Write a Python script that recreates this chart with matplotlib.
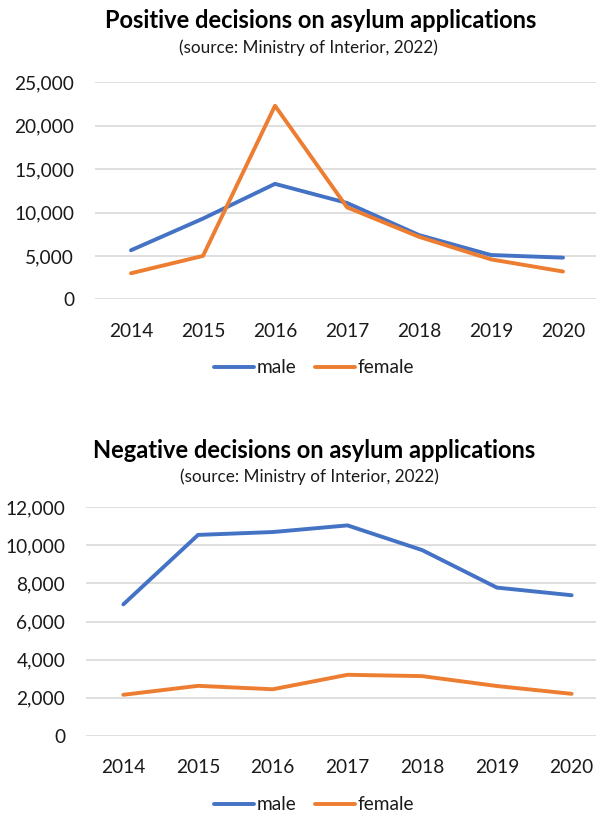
import numpy as np
import matplotlib
matplotlib.use('Agg')
import matplotlib.pyplot as plt
from matplotlib.ticker import FuncFormatter

plt.rcParams['font.family'] = ['Lato', 'DejaVu Sans']

# Data
years = ['2014', '2015', '2016', '2017', '2018', '2019', '2020']
positive_male = [5650, 9300, 13300, 11100, 7400, 5100, 4800]
positive_female = [3000, 5000, 22300, 10600, 7200, 4600, 3200]
negative_male = [6900, 10550, 10700, 11050, 9750, 7780, 7380]
negative_female = [2150, 2620, 2440, 3200, 3130, 2610, 2200]

BLUE = '#4472C4'
ORANGE = '#ED7D31'
GRID = '#D9D9D9'
TEXT = '#1a1a1a'

W, H = 596, 816
fig = plt.figure(figsize=(W / 100, H / 100), dpi=100)


def px_box(left, top, right, bottom):
    # convert a pixel box (top-left origin) to figure fraction
    return [left / W, 1 - bottom / H, (right - left) / W, (bottom - top) / H]


def draw_panel(box, male, female, ymax, step, title, title_xy, sub_xy, legend_y):
    ax = fig.add_axes(px_box(*box))
    x = np.arange(len(years))
    ax.plot(x, male, color=BLUE, linewidth=2.8, label='male', solid_capstyle='round')
    ax.plot(x, female, color=ORANGE, linewidth=2.8, label='female', solid_capstyle='round')
    ax.set_xlim(-0.5, len(years) - 0.5)
    ax.set_ylim(0, ymax)
    ax.set_yticks(np.arange(0, ymax + 1, step))
    ax.yaxis.set_major_formatter(FuncFormatter(lambda v, p: f'{int(v):,}'))
    ax.set_xticks(x)
    ax.set_xticklabels(years)
    ax.grid(axis='y', color=GRID, linewidth=1.2)
    ax.set_axisbelow(True)
    for s in ax.spines.values():
        s.set_visible(False)
    ax.tick_params(length=0, labelsize=13.8, colors=TEXT)
    ax.tick_params(axis='y', pad=15)
    ax.tick_params(axis='x', pad=17)

    fig.text(title_xy[0] / W, 1 - title_xy[1] / H, title, ha='center', va='center',
             fontsize=17, fontweight='bold', color='black')
    fig.text(sub_xy[0] / W, 1 - sub_xy[1] / H, '(source: Ministry of Interior, 2022)',
             ha='center', va='center', fontsize=12.3, color=TEXT)

    fig.legend(handles=ax.get_lines(), loc='center', ncol=2, frameon=False,
               bbox_to_anchor=(314 / W, 1 - legend_y / H), fontsize=13.8,
               handlelength=2.1, handletextpad=0.1, columnspacing=1.0,
               labelcolor=TEXT)
    return ax


draw_panel((95, 82.3, 599, 299.3), positive_male, positive_female, 25000, 5000,
           'Positive decisions on asylum applications', (321, 21), (308, 47.5), 368)
draw_panel((86, 507.3, 609, 735.7), negative_male, negative_female, 12000, 2000,
           'Negative decisions on asylum applications', (314, 450), (309, 476.5), 805)

fig.savefig('out.png', dpi=100, facecolor='white')
